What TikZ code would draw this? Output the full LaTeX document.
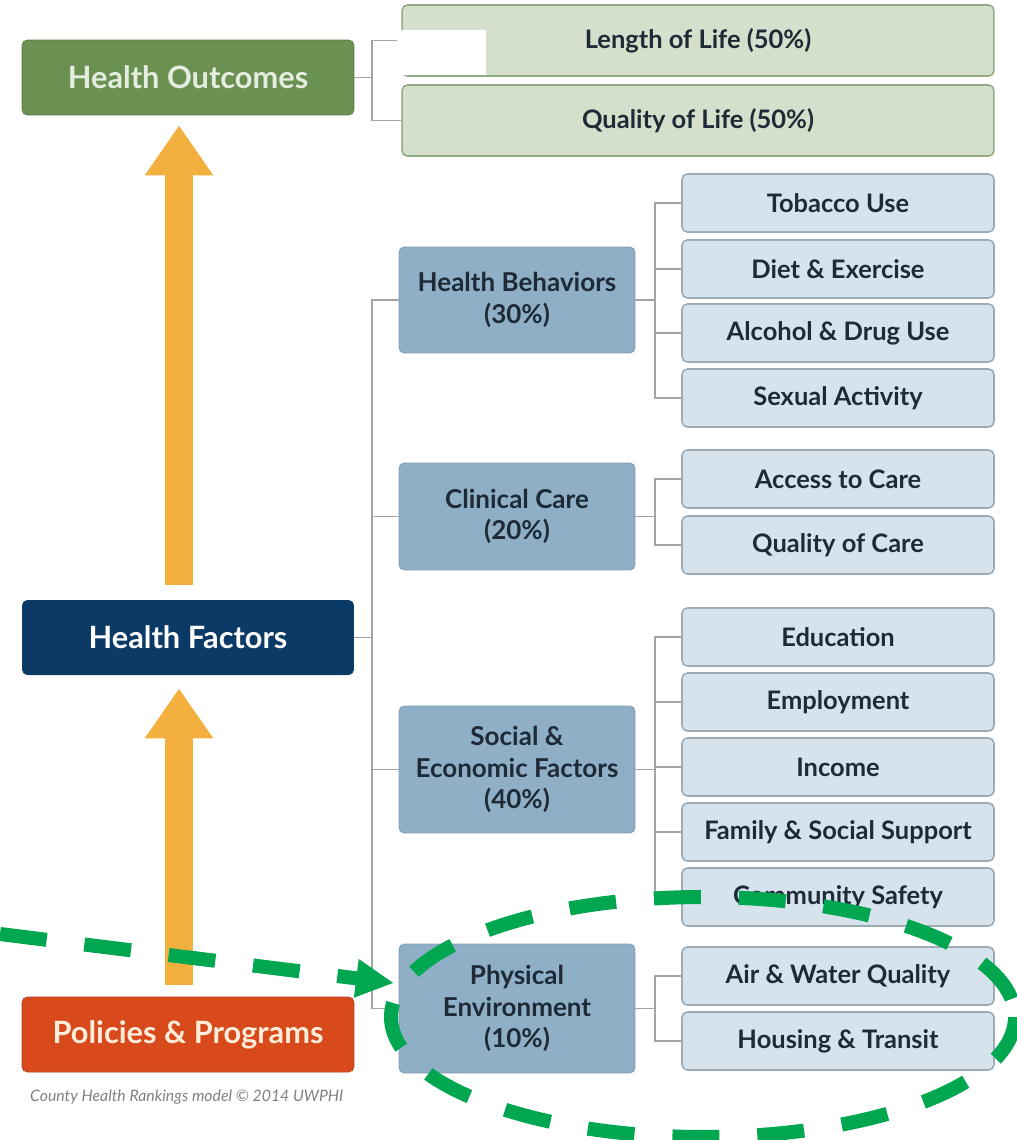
\documentclass[tikz,border=0pt]{standalone}
\usepackage{fontspec}
\setmainfont{Lato}
\usepackage{xcolor}
\usepackage{tikz}
\usetikzlibrary{positioning, arrows.meta}

\definecolor{outgreen}{HTML}{6B9152}
\definecolor{outlight}{HTML}{D4E0CB}
\definecolor{outline}{HTML}{93AA86}
\definecolor{factnavy}{HTML}{0C3A67}
\definecolor{polred}{HTML}{D84A1B}
\definecolor{midblue}{HTML}{8EAFC6}
\definecolor{subblue}{HTML}{D6E3EC}
\definecolor{subline}{HTML}{9DABB7}
\definecolor{linkgray}{HTML}{A4A4A4}
\definecolor{arroworange}{HTML}{F4B03F}
\definecolor{markgreen}{HTML}{00A650}
\definecolor{textdark}{HTML}{1E2A36}

\begin{document}
\begin{tikzpicture}[x=0.02cm, y=-0.02cm,
    every node/.style={font=\bfseries},
    bigbox/.style={rounded corners=3pt, minimum width=6.64cm, minimum height=1.5cm, font=\fontsize{17.5}{20}\selectfont\bfseries},
    outbox/.style={rounded corners=3pt, fill=outlight, draw=outline, line width=0.9pt, minimum width=11.84cm, minimum height=1.42cm, text=textdark, font=\fontsize{14.5}{16}\selectfont\bfseries},
    midbox/.style={rounded corners=3pt, fill=midblue, draw=midblue!90!black, line width=0.5pt, minimum width=4.72cm, align=center, text=textdark, font=\fontsize{14.8}{18}\selectfont\bfseries},
    subbox/.style={rounded corners=3pt, fill=subblue, draw=subline, line width=0.9pt, minimum width=6.24cm, minimum height=1.16cm, text=textdark, font=\fontsize{14.5}{16}\selectfont\bfseries},
    link/.style={draw=linkgray, line width=1.1pt},
    bigarrow/.style={draw=arroworange, line width=0.56cm, -{Triangle[width=1.3cm, length=1cm]}, arroworange},
    greendash/.style={draw=markgreen, line width=8pt, dash pattern=on 0.94cm off 0.76cm}]

    \useasboundingbox (0,0) rectangle (1017,1140);

    % Left column
    \node[bigbox, fill=outgreen, draw=outgreen!85!black, text=outlight!60!white] (ho) at (188,77.5) {Health Outcomes};
    \node[bigbox, fill=factnavy, text=white] (hf) at (188,637.5) {Health Factors};
    \node[bigbox, fill=polred, draw=polred!85!black, text=orange!15!white] (pp) at (188,1034.5) {Policies \& Programs};
    \node[font=\fontsize{9}{10}\selectfont\itshape, text=gray, anchor=west] (credit) at (24,1097) {County Health Rankings model \textcopyright{} 2014 UWPHI};

    % Arrows
    \draw[bigarrow] ([xshift=-0.18cm, yshift=0.3cm]hf.north) -- ([xshift=-0.18cm, yshift=-0.2cm]ho.south);
    \draw[bigarrow] ([xshift=-0.18cm, yshift=0.24cm]pp.north) -- ([xshift=-0.18cm, yshift=-0.26cm]hf.south);

    % Outcomes
    \node[outbox] (len) at (698,40.5) {Length of Life (50\%)};
    \node[outbox] (qol) at (698,120.5) {Quality of Life (50\%)};
    \draw[link] (ho.east) -- +(18,0) |- (len.west);
    \draw[link] (ho.east) -- +(18,0) |- (qol.west);
    \fill[white] (397,30) rectangle (486,75);

    % Factors
    \node[midbox, minimum height=2.12cm] (hb) at (517,300) {Health Behaviors\\(30\%)};
    \node[midbox, minimum height=2.14cm] (cc) at (517,516.5) {Clinical Care\\(20\%)};
    \node[midbox, minimum height=2.54cm] (se) at (517,769.5) {Social \&\\Economic Factors\\(40\%)};
    \node[midbox, minimum height=2.58cm] (pe) at (517,1008.5) {Physical\\Environment\\(10\%)};
    \draw[link] (hf.east) -- +(18,0) |- (hb.west);
    \draw[link] (hf.east) -- +(18,0) |- (cc.west);
    \draw[link] (hf.east) -- +(18,0) |- (se.west);
    \draw[link] (hf.east) -- +(18,0) |- (pe.west);

    % Health behaviors
    \node[subbox] (tob) at (838,203) {Tobacco Use};
    \node[subbox] (diet) at (838,269) {Diet \& Exercise};
    \node[subbox] (alc) at (838,333) {Alcohol \& Drug Use};
    \node[subbox] (sex) at (838,398) {Sexual Activity};
    \draw[link] (hb.east) -- +(20,0) |- (tob.west);
    \draw[link] (hb.east) -- +(20,0) |- (diet.west);
    \draw[link] (hb.east) -- +(20,0) |- (alc.west);
    \draw[link] (hb.east) -- +(20,0) |- (sex.west);

    % Clinical care
    \node[subbox] (acc) at (838,479) {Access to Care};
    \node[subbox] (qoc) at (838,545) {Quality of Care};
    \draw[link] (cc.east) -- +(20,0) |- (acc.west);
    \draw[link] (cc.east) -- +(20,0) |- (qoc.west);

    % Social and economic
    \node[subbox] (edu) at (838,637) {Education};
    \node[subbox] (emp) at (838,702) {Employment};
    \node[subbox] (inc) at (838,767) {Income};
    \node[subbox] (fam) at (838,832) {Family \& Social Support};
    \node[subbox] (com) at (838,897) {Community Safety};
    \draw[link] (se.east) -- +(20,0) |- (edu.west);
    \draw[link] (se.east) -- +(20,0) |- (emp.west);
    \draw[link] (se.east) -- +(20,0) |- (inc.west);
    \draw[link] (se.east) -- +(20,0) |- (fam.west);
    \draw[link] (se.east) -- +(20,0) |- (com.west);

    % Physical environment
    \node[subbox] (air) at (838,976) {Air \& Water Quality};
    \node[subbox] (hou) at (838,1041) {Housing \& Transit};
    \draw[link] (pe.east) -- +(20,0) |- (air.west);
    \draw[link] (pe.east) -- +(20,0) |- (hou.west);

    % Green marking
    \coordinate (gstart) at (0,934);
    \coordinate (gtip) at (394,983);
    \draw[greendash, -{Triangle[width=0.72cm, length=0.76cm]}, markgreen] (gstart) -- (gtip);
    \draw[greendash] (703,1017) ellipse [x radius=312, y radius=120];

\end{tikzpicture}
\end{document}
